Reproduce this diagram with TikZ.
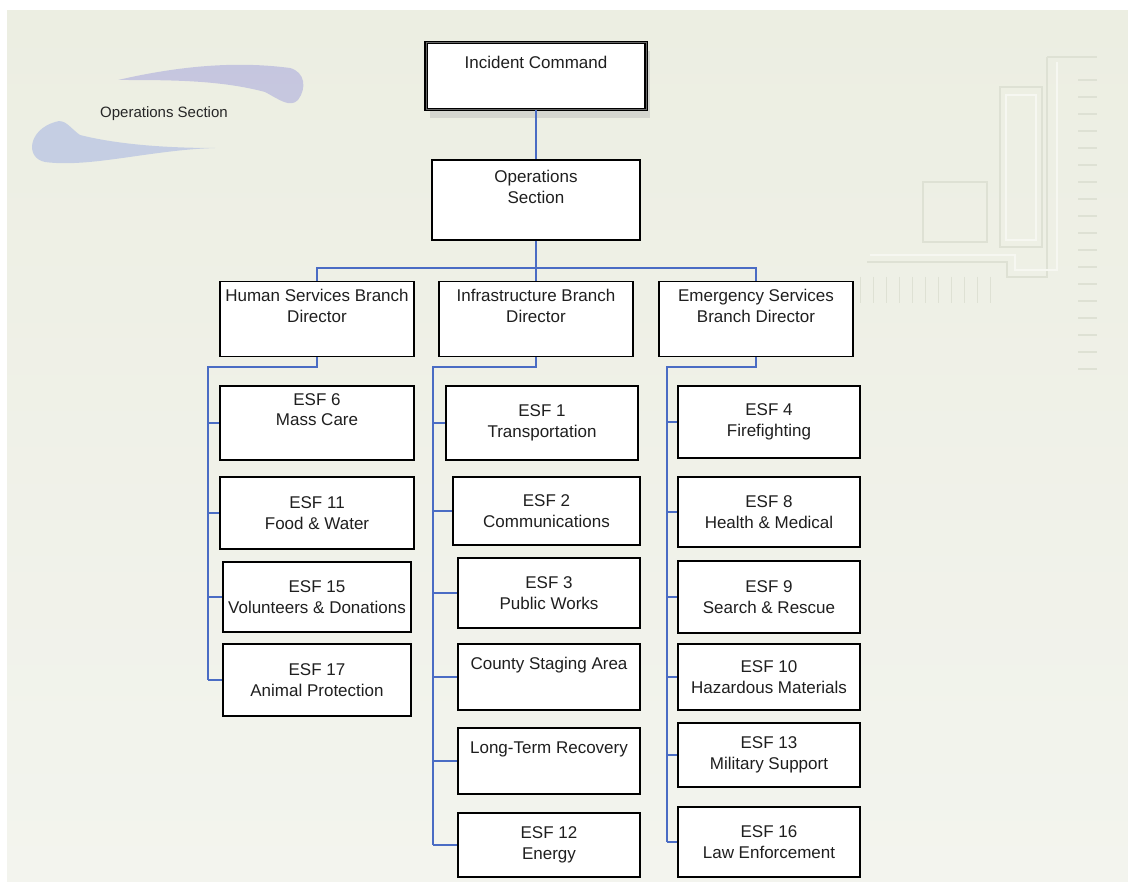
\documentclass[tikz,border=0pt]{standalone}
\usepackage{fontspec}
\usepackage{xcolor}
\setmainfont{Liberation Sans}
\usetikzlibrary{shadows}
\definecolor{paper}{RGB}{236,238,226}
\definecolor{paperlight}{RGB}{243,244,238}
\definecolor{linkblue}{RGB}{74,108,196}
\definecolor{swooshblue}{RGB}{150,168,226}
\definecolor{swooshlilac}{RGB}{160,160,220}
\definecolor{decodark}{RGB}{222,225,212}
\definecolor{decolight}{RGB}{246,247,241}

\begin{document}
\begin{tikzpicture}[x=1pt, y=-1pt, line join=miter,
                orgbox/.style={shape=rectangle, draw=black, fill=white, line width=1.2pt, inner sep=0pt,
                    align=center, text=black!88, font=\fontsize{17}{20.5}\selectfont},
                topbox/.style={orgbox, line width=1.3pt, double=black!60, double distance=0.8pt,
                    drop shadow={shadow xshift=4pt, shadow yshift=-9pt, fill=black!30, opacity=0.4}},
                link/.style={draw=linkblue, line width=1.4pt},
                deco/.style={draw=decodark, line width=1.5pt}]
            % Page and background
            \useasboundingbox (0, 0) rectangle (1128, 882);
            \fill[white] (0, 0) rectangle (1128, 882);
            \shade[top color=paper, bottom color=paperlight] (7, 11) rectangle (1128, 882);
            % Faint circuit decoration on the right
            \draw[deco] (1047, 57) -- (1097, 57);
            \draw[deco] (1047, 57) -- (1047, 277) -- (1007, 277) -- (1007, 262) -- (867, 262);
            \draw[deco, draw=decolight] (1057, 62) -- (1057, 270) -- (1015, 270) -- (1015, 255) -- (870, 255);
            \draw[deco] (1000, 87) rectangle (1042, 247);
            \draw[deco, draw=decolight] (1006, 95) rectangle (1036, 240);
            \draw[deco] (923, 182) rectangle (987, 242);
            \foreach \y in {80, 97, ..., 370} {
                \draw[deco] (1078, \y) -- (1097, \y);
            }
            \foreach \x in {860, 873, 886, 899, 912, 925, 938, 951, 964, 977, 990} {
                \draw[deco, line width=1pt] (\x, 277) -- (\x, 303);
            }
            % Title swoosh
            \fill[swooshlilac, opacity=0.5] (118, 80) .. controls (170, 68) and (230, 60) .. (290, 68)
                .. controls (305, 72) and (307, 88) .. (298, 100) .. controls (290, 108) and (280, 100) .. (265, 92)
                .. controls (220, 80) and (170, 80) .. (118, 80);
            \fill[swooshblue, opacity=0.45] (215, 148) .. controls (150, 150) and (90, 168) .. (45, 162)
                .. controls (25, 158) and (28, 130) .. (55, 122) .. controls (65, 118) and (70, 128) .. (80, 135)
                .. controls (120, 145) and (170, 148) .. (215, 148);
            \node[text=black!85, font=\fontsize{15}{18}\selectfont] (title) at (164, 114) {Operations Section};

            % Command and section
            \node[topbox, minimum width=220pt, minimum height=67pt] (ic) at (536, 76) {Incident Command\\ \strut};
            \node[orgbox, minimum width=208pt, minimum height=80pt] (ops) at (536, 200) {Operations\\Section\\ \strut};
            % Branch directors
            \node[orgbox, minimum width=194pt, minimum height=75pt] (hs) at (317, 319) {Human Services Branch\\Director\\ \strut};
            \node[orgbox, minimum width=194pt, minimum height=75pt] (inf) at (536, 319) {Infrastructure Branch\\Director\\ \strut};
            \node[orgbox, minimum width=194pt, minimum height=75pt] (es) at (756, 319) {Emergency Services\\Branch Director\\ \strut};

            % Human services column
        \foreach \n/\xa/\ya/\xb/\yb/\txt in {
            esf6/220/386/414/460/{ESF 6\\Mass Care\\ \strut},
            esf11/220/477/414/549/{ESF 11\\Food \& Water},
            esf15/223/562/411/632/{ESF 15\\Volunteers \& Donations},
            esf17/223/644/411/716/{ESF 17\\Animal Protection}} {
            \node[orgbox, minimum width={(\xb-\xa)*1pt}, minimum height={(\yb-\ya)*1pt}]
                (\n) at ({(\xa+\xb)/2}, {(\ya+\yb)/2}) {\txt};
        }
        % Infrastructure column
        \foreach \n/\xa/\ya/\xb/\yb/\txt in {
            esf1/446/386/638/460/{ESF 1\\Transportation},
            esf2/453/477/640/545/{ESF 2\\Communications},
            esf3/458/558/640/628/{ESF 3\\Public Works},
            csa/458/644/640/710/{County Staging Area\\ \strut},
            ltr/458/728/640/794/{Long-Term Recovery\\ \strut},
            esf12/458/813/640/877/{ESF 12\\Energy}} {
            \node[orgbox, minimum width={(\xb-\xa)*1pt}, minimum height={(\yb-\ya)*1pt}]
                (\n) at ({(\xa+\xb)/2}, {(\ya+\yb)/2}) {\txt};
        }
        % Emergency services column
        \foreach \n/\ya/\yb/\txt in {
            esf4/386/458/{ESF 4\\Firefighting},
            esf8/477/547/{ESF 8\\Health \& Medical},
            esf9/561/633/{ESF 9\\Search \& Rescue},
            esf10/644/710/{ESF 10\\Hazardous Materials},
            esf13/723/787/{ESF 13\\Military Support},
            esf16/807/877/{ESF 16\\Law Enforcement}} {
            \node[orgbox, minimum width=182pt, minimum height={(\yb-\ya)*1pt}]
                (\n) at (769, {(\ya+\yb)/2}) {\txt};
        }

            % Links down the chain of command
            \coordinate (bus) at (536, 268);
            \draw[link] (ic.south) -- (ops.north);
            \draw[link] (ops.south) -- (bus);
            \draw[link] (hs.north) |- (bus);
            \draw[link] (es.north) |- (bus);
            \draw[link] (inf.north) -- (bus);
            % Branch rails
            \coordinate (hsrail) at (208, 367);
            \coordinate (infrail) at (433, 367);
            \coordinate (esrail) at (667, 367);
            \draw[link] (hs.south) |- (hsrail) -- (hsrail |- esf17.west);
            \draw[link] (inf.south) |- (infrail) -- (infrail |- esf12.west);
            \draw[link] (es.south) |- (esrail) -- (esrail |- esf16.west);
        \foreach \n in {esf6, esf11, esf15, esf17} {
            \draw[link] (hsrail |- \n.west) -- (\n.west);
        }
        \foreach \n in {esf1, esf2, esf3, csa, ltr, esf12} {
            \draw[link] (infrail |- \n.west) -- (\n.west);
        }
        \foreach \n in {esf4, esf8, esf9, esf10, esf13, esf16} {
            \draw[link] (esrail |- \n.west) -- (\n.west);
        }
            \end{tikzpicture}
\end{document}
